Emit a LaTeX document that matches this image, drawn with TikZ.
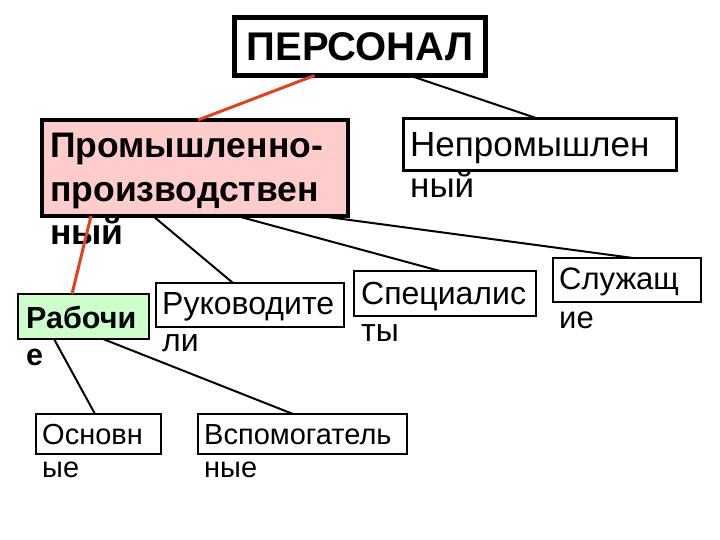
\documentclass[tikz,border=0pt]{standalone}
\usepackage{fontspec}
\setmainfont{Liberation Sans}
\usepackage{xcolor}
\usepackage{tikz}
\usetikzlibrary{positioning}
\definecolor{linkred}{HTML}{E2401E}
\definecolor{pinkfill}{HTML}{FFCCCC}
\definecolor{greenfill}{HTML}{CCFFCC}
\newcommand{\bigreg}{\fontsize{32}{37}\selectfont}
\newcommand{\smallreg}{\fontsize{29}{33}\selectfont}
\tikzset{
  box/.style      = {rectangle, draw=black, line width=2pt, anchor=north west,
                    outer sep=0pt, inner sep=0pt},
  topbox/.style   = {rectangle, draw=black, line width=5pt, outer sep=0pt,
                    font=\fontsize{40}{48}\selectfont\bfseries},
  txt/.style      = {anchor=north west, inner sep=0pt, align=left},
  link/.style     = {line width=2pt, draw=black},
  redlink/.style  = {line width=3pt, draw=linkred},
}
\begin{document}
\begin{tikzpicture}[x=1pt, y=-1pt]
  \useasboundingbox (0,0) rectangle (720,540);

  % Top of the tree
  \node[topbox, minimum width=251pt, minimum height=58pt] (pers) at (360,46.5) {ПЕРСОНАЛ};

  % Second level
  \node[box, line width=4pt, fill=pinkfill, minimum width=306pt, minimum height=96pt]
       (prom) at (42,120) {};
  \node[txt, font=\fontsize{35.5}{43.5}\selectfont\bfseries]
       (promtxt) at (50,133) {Промышленно-\\производствен\\ный};
  \node[box, line width=3pt, minimum width=273pt, minimum height=52pt]
       (neprom) at (403.5,118.5) {};
  \node[txt, font=\fontsize{35}{41}\selectfont]
       (nepromtxt) at (410,132) {Непромышлен\\ный};

  % Third level
  \node[box, fill=greenfill, minimum width=131pt, minimum height=45pt] (rab) at (18,294) {};
  \node[txt, font=\fontsize{30.5}{37}\selectfont\bfseries]
       (rabtxt) at (26,306) {Рабочи\\е};
  \node[box, minimum width=188pt, minimum height=44pt] (ruk) at (156,283) {};
  \node[txt, font=\bigreg] (ruktxt) at (162,292) {Руководите\\ли};
  \node[box, minimum width=182pt, minimum height=45pt] (spec) at (354,271) {};
  \node[txt, font=\bigreg] (spectxt) at (361,282) {Специалис\\ты};
  \node[box, minimum width=148pt, minimum height=44pt] (sluzh) at (553,258) {};
  \node[txt, font=\fontsize{31}{39}\selectfont] (sluzhtxt) at (559,268) {Служащ\\ие};

  % Workers split
  \node[box, minimum width=125pt, minimum height=40pt] (osn) at (36,414) {};
  \node[txt, font=\smallreg] (osntxt) at (42,424) {Основн\\ые};
  \node[box, minimum width=209pt, minimum height=40pt] (vsp) at (198,414) {};
  \node[txt, font=\smallreg] (vsptxt) at (204,424) {Вспомогатель\\ные};

  % Connectors
  \draw[redlink] ([xshift=80pt]pers.south west) -- ([xshift=156pt]prom.north west);
  \draw[link] ([xshift=175pt]pers.south west) -- ([xshift=134pt]neprom.north west);
  \draw[redlink] ([xshift=49pt]prom.south west) -- ([xshift=54pt]rab.north west);
  \draw[link] ([xshift=111pt]prom.south west) -- ([xshift=77pt]ruk.north west);
  \draw[link] ([xshift=195pt]prom.south west) -- ([xshift=86pt]spec.north west);
  \draw[link] ([xshift=278pt]prom.south west) -- ([xshift=80pt]sluzh.north west);
  \draw[link] ([xshift=36pt]rab.south west) -- ([xshift=59pt]osn.north west);
  \draw[link] ([xshift=85pt]rab.south west) -- ([xshift=95pt]vsp.north west);

\end{tikzpicture}
\end{document}
